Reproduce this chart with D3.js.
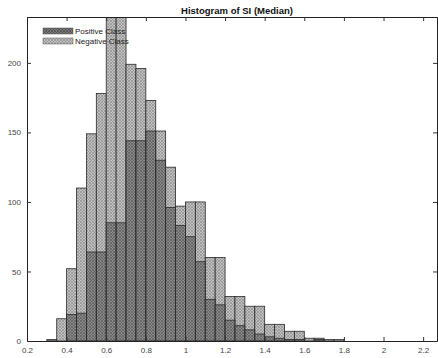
<!DOCTYPE html>
<head>
  <meta charset="utf-8">
  <script src="https://d3js.org/d3.v7.min.js"></script>
  <style>
    body { margin:0; background:#fff; }
    svg { display:block; }
    .tick text { font: 8px "Liberation Sans", Arial, sans-serif; fill:#444; }
  </style>
</head>
<body>
<div id="chart"></div>
<script>

// left edges of the histogram bins (width 0.05)
var binEdges = [0.30,0.35,0.40,0.45,0.50,0.55,0.60,0.65,0.70,0.75,0.80,0.85,0.90,0.95,
                1.00,1.05,1.10,1.15,1.20,1.25,1.30,1.35,1.40,1.45,1.50,1.55,1.60,1.65,1.70,1.75,1.80];
var negCounts = [0,16,52,110,149,178,236,250,199,196,173,151,125,97,
                 100,100,60,60,32,32,25,25,12,12,7,7,2,2,1,1,0];
var posCounts = [1,0,19,20,64,64,85,85,144,144,151,130,96,83,
                 75,57,30,26,15,11,8,5,3,2,1,1,0,1,0,0,0];
var binWidth = 0.05;

var xTicks = [0.2,0.4,0.6,0.8,1,1.2,1.4,1.6,1.8,2,2.2];
var yTicks = [0,50,100,150,200];
var legendNames = ["Positive Class","Negative Class"];

var width = 438, height = 358;
var margin = {top:17, right:1, bottom:17, left:27};

var svg = d3.select("#chart").append("svg")
    .attr("width", width).attr("height", height);

var defs = svg.append("defs");
function hatch(id, bg, fg) {
  var p = defs.append("pattern").attr("id", id)
      .attr("patternUnits","userSpaceOnUse").attr("width",3).attr("height",3);
  p.append("rect").attr("width",3).attr("height",3).attr("fill",bg);
  p.append("path").attr("d","M0,0L3,3M3,0L0,3").attr("stroke",fg).attr("stroke-width",0.7);
}
hatch("negFill", "#c2c2c2", "#8e8e8e");
hatch("posFill", "#7a7a7a", "#4c4c4c");

defs.append("clipPath").attr("id","plotClip")
  .append("rect")
    .attr("x", margin.left).attr("y", margin.top)
    .attr("width", width - margin.left - margin.right)
    .attr("height", height - margin.top - margin.bottom);

var x = d3.scaleLinear().domain([0.2, 2.27]).range([margin.left, width - margin.right]);
var y = d3.scaleLinear().domain([0, 233]).range([height - margin.bottom, margin.top]);

var bars = svg.append("g").attr("clip-path","url(#plotClip)");

function drawSeries(counts, fill, opacity) {
  bars.append("g").selectAll("rect")
    .data(binEdges.map(function(e, i){ return {x0:e, n:counts[i]}; }).filter(function(d){ return d.n > 0; }))
    .enter().append("rect")
      .attr("x", function(d){ return x(d.x0); })
      .attr("width", function(d){ return x(d.x0 + binWidth) - x(d.x0); })
      .attr("y", function(d){ return y(d.n); })
      .attr("height", function(d){ return y(0) - y(d.n); })
      .attr("fill", fill)
      .attr("fill-opacity", opacity)
      .attr("stroke", "#2a2a2a")
      .attr("stroke-width", 0.8);
}
drawSeries(negCounts, "url(#negFill)", 1);
drawSeries(posCounts, "url(#posFill)", 0.78);

// axes (MATLAB style, ticks inside, box)
var xAxisB = d3.axisBottom(x).tickValues(xTicks).tickSizeInner(-4).tickSizeOuter(0).tickPadding(6)
    .tickFormat(d3.format("~g"));
var xAxisT = d3.axisTop(x).tickValues(xTicks).tickSizeInner(-4).tickSizeOuter(0).tickFormat("");
var yAxisL = d3.axisLeft(y).tickValues(yTicks).tickSizeInner(-4).tickSizeOuter(0).tickPadding(6);
var yAxisR = d3.axisRight(y).tickValues(yTicks).tickSizeInner(-4).tickSizeOuter(0).tickFormat("");

svg.append("g").attr("transform","translate(0,"+(height - margin.bottom)+")").call(xAxisB);
svg.append("g").attr("transform","translate(0,"+margin.top+")").call(xAxisT);
svg.append("g").attr("transform","translate("+margin.left+",0)").call(yAxisL);
svg.append("g").attr("transform","translate("+(width - margin.right)+",0)").call(yAxisR);
svg.selectAll(".domain").attr("stroke","#222").attr("stroke-width",1);
svg.selectAll(".tick line").attr("stroke","#333");

// title
svg.append("text")
  .attr("x", 237).attr("y", 14)
  .attr("text-anchor","middle")
  .style("font", "bold 9.5px 'Liberation Sans', Arial, sans-serif")
  .attr("fill","#111")
  .text("Histogram of SI (Median)");

// legend
var legend = svg.append("g").attr("transform","translate(43,28)");
legendNames.forEach(function(name, i) {
  legend.append("rect")
    .attr("x", 0).attr("y", i * 10)
    .attr("width", 30).attr("height", 6)
    .attr("fill", i == 0 ? "url(#posFill)" : "url(#negFill)")
    .attr("stroke", "#555").attr("stroke-width", 0.5);
  legend.append("text")
    .attr("x", 32).attr("y", i * 10 + 6)
    .style("font", "8px 'Liberation Sans', Arial, sans-serif")
    .attr("fill","#222")
    .text(name);
});

</script>
</body>
